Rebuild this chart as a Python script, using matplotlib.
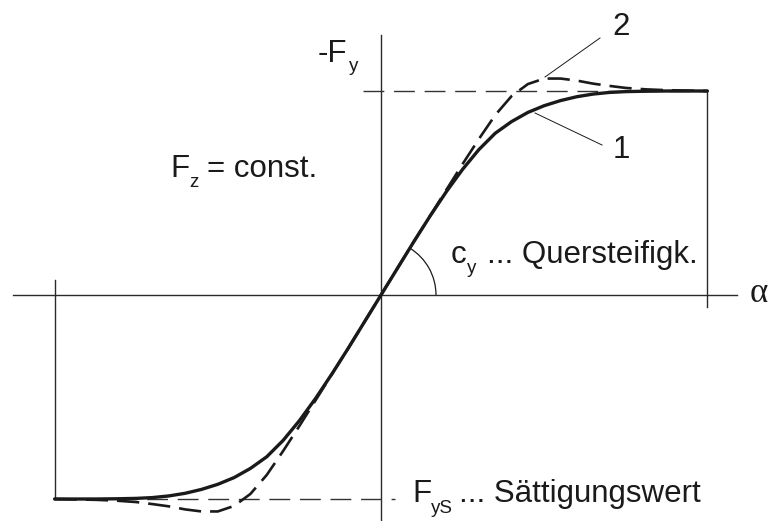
import numpy as np
import matplotlib.pyplot as plt
from matplotlib.patches import Arc

plt.rcParams['font.family'] = ['Liberation Sans', 'DejaVu Sans']
plt.rcParams['lines.scale_dashes'] = False

# Side-force characteristic, normalised so that the saturation value F_yS = 1.
# Only the positive half is stored; the curves are point-symmetric about the origin.
alpha = [0.00, 0.08, 0.16, 0.24, 0.32, 0.40, 0.48, 0.56, 0.64, 0.72,
         0.80, 0.88, 0.96, 1.04, 1.12, 1.20, 1.30, 1.40, 1.60]
# curve 1: monotone saturation
fy_1 = [0.000, 0.130, 0.260, 0.386, 0.506, 0.616, 0.713, 0.793, 0.850, 0.895,
        0.928, 0.953, 0.972, 0.985, 0.993, 0.997, 0.999, 1.000, 1.000]
# curve 2: overshoot above the saturation value
fy_2 = [0.000, 0.130, 0.260, 0.387, 0.515, 0.642, 0.765, 0.882, 0.975, 1.034,
        1.061, 1.061, 1.051, 1.036, 1.025, 1.015, 1.008, 1.004, 1.000]
fy_sat = 1.0
cy_angle = 58  # degrees, initial slope of the curve

PX = 204.0  # pixels per unit
OX, OY = 381, 295  # origin in pixels


def px(x, y):
    # pixel position (from top left) -> data coordinates
    return (x - OX) / PX, (OY - y) / PX


def mirror(a, f):
    a = np.asarray(a)
    f = np.asarray(f)
    return np.concatenate([-a[::-1], a[1:]]), np.concatenate([-f[::-1], f[1:]])


INK = '#1a1a1a'
AXC = '#2a2a2a'

fig = plt.figure(figsize=(7.76, 5.21), dpi=100)
ax = fig.add_axes([0, 0, 1, 1])
ax.set_xlim(-OX / PX, (776 - OX) / PX)
ax.set_ylim(-(521 - OY) / PX, OY / PX)
ax.axis('off')

a_end = alpha[-1]

# axes
x0, _ = px(13, 0)
x1, _ = px(737, 0)
ax.plot([x0, x1], [0, 0], color=AXC, lw=1.0)
_, y0 = px(0, 521)
_, y1 = px(0, 35)
ax.plot([0, 0], [y0, y1], color=AXC, lw=1.0)

# saturation levels (dashed) and end verticals
ax.plot([-0.09, a_end], [fy_sat, fy_sat], color='#333333', lw=1.0,
        linestyle=(0, (15, 7)))
ax.plot([-a_end, 0.07], [-fy_sat, -fy_sat], color='#333333', lw=1.0,
        linestyle=(0, (15, 7)))
ax.plot([a_end, a_end], [fy_sat, px(0, 307)[1]], color=AXC, lw=1.0)
ax.plot([-a_end, -a_end], [-fy_sat, px(0, 280)[1]], color=AXC, lw=1.0)

# curves
a1, f1 = mirror(alpha, fy_1)
a2, f2 = mirror(alpha, fy_2)
ax.plot(a2, f2, color=INK, lw=1.9, linestyle=(0, (16, 6.5)),
        solid_capstyle='butt', dash_capstyle='butt')
ax.plot(a1, f1, color=INK, lw=2.4, solid_capstyle='round')

# cornering stiffness arc
r = 55 / PX
ax.add_patch(Arc((0, 0), 2 * r, 2 * r, theta1=0, theta2=cy_angle,
                 color=INK, lw=0.9))

# pointer lines to the curve numbers
ax.plot(*zip(px(545, 77), px(600, 38)), color=INK, lw=0.7)
ax.plot(*zip(px(535, 113), px(602, 145)), color=INK, lw=0.7)

FS = 22.5
FSS = 13.5


def label(x, y, s, size=FS, **kw):
    ax.text(*px(x, y), s, fontsize=size, color=INK, ha='left',
            va='baseline', **kw)


label(318, 62, '-F')
label(349, 71, 'y', FSS)

label(170, 177, 'F')
label(189, 187, 'z', FSS)
label(207, 177, '= const.')

label(451, 263, 'c')
label(467, 273, 'y', FSS)
label(487, 263, '... Quersteifigk.')

label(412, 502, 'F')
label(431, 513, 'yS', FSS)
label(459, 502, '... Sättigungswert')

label(750, 302, 'α', 25, family=['Liberation Serif', 'DejaVu Serif'])

label(612, 35, '2')
label(613, 158, '1')

fig.savefig('out.png', dpi=100)
